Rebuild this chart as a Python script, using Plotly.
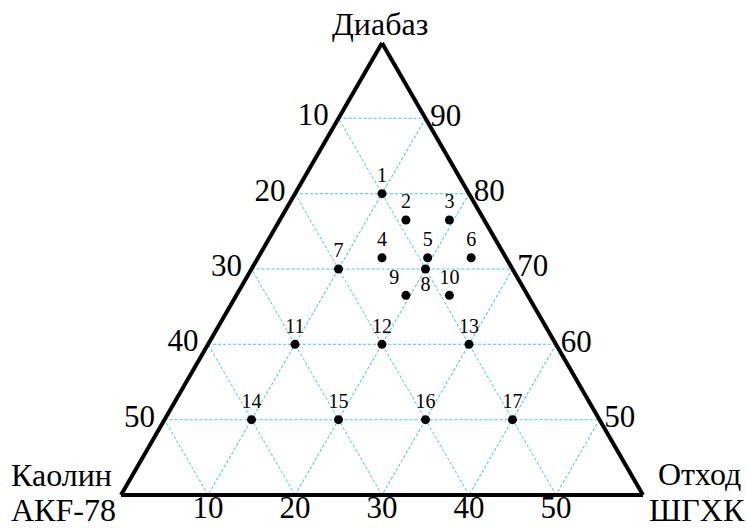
import plotly.graph_objects as go

# ---- data ----
point_labels = [str(i) for i in range(1, 18)]
diabase = [80, 76.5, 76.5, 71.5, 71.5, 71.5, 70, 70, 66.5, 66.5, 60, 60, 60, 50, 50, 50, 50]
kaolin = [10, 9, 4, 14.25, 9, 4, 20, 10, 14, 9, 30, 20, 10, 40, 30, 20, 10]
otkhod = [10, 14.5, 19.5, 14.25, 19.5, 24.5, 10, 20, 19.5, 24.5, 10, 20, 30, 10, 20, 30, 40]
label_pos = ["top center"] * 17
label_pos[7] = "bottom center"   # 8
label_pos[8] = "top left"        # 9

# tick positions and their printed labels
a_tickvals = [90, 80, 70, 60, 50]
a_ticktext = ["10", "20", "30", "40", "50"]     # left edge
b_tickvals = [50, 40, 30, 20, 10]
b_ticktext = ["10", "20", "30", "40", "50"]     # bottom edge
c_tickvals = [10, 20, 30, 40, 50]
c_ticktext = ["90", "80", "70", "60", "50"]     # right edge
a_min = 40

W, H = 746, 528
FONT = "Liberation Serif"
GRID = "#45c4f0"
TICKSIZE = 31

fig = go.Figure()
fig.add_trace(go.Scatterternary(
    a=diabase, b=kaolin, c=otkhod,
    mode="markers+text",
    text=point_labels,
    textposition=label_pos,
    textfont=dict(family=FONT, size=20, color="black"),
    marker=dict(size=9, color="black"),
    cliponaxis=False,
    hoverinfo="skip",
    showlegend=False,
))

# bottom-edge labels, placed at the grid intersections of the bottom edge
fig.add_trace(go.Scatterternary(
    a=[a_min] * len(b_tickvals), b=b_tickvals, c=[100 - a_min - v for v in b_tickvals],
    mode="text",
    text=b_ticktext,
    textposition="bottom center",
    textfont=dict(family=FONT, size=TICKSIZE, color="black"),
    cliponaxis=False,
    hoverinfo="skip",
    showlegend=False,
))

def axis(tv, tt, ticklen=0, labels=True):
    return dict(
        min=0, tickmode="array", tickvals=tv, ticktext=tt,
        ticks="outside" if ticklen else "", ticklen=ticklen,
        tickcolor="rgba(0,0,0,0)",
        showticklabels=labels,
        showline=True, linecolor="black", linewidth=4,
        showgrid=True, gridcolor=GRID, gridwidth=1, griddash="3px,2px",
        tickfont=dict(family=FONT, size=TICKSIZE, color="black"),
        title=dict(text=""),
    )

aax = axis(a_tickvals, a_ticktext, ticklen=4)
aax["min"] = a_min

def ann(text, x, y, xanchor):
    return dict(text=text, x=x / W, y=1 - y / H, xref="paper", yref="paper",
                xanchor=xanchor, yanchor="middle", showarrow=False,
                font=dict(family=FONT, size=32, color="black"))

fig.update_layout(
    width=W, height=H,
    margin=dict(l=0, r=0, t=0, b=0),
    paper_bgcolor="white",
    ternary=dict(
        sum=100,
        bgcolor="white",
        domain=dict(x=[102 / W, 662 / W], y=[(H - 495) / H, (H - 43) / H]),
        aaxis=aax,
        baxis=axis(b_tickvals, b_ticktext, labels=False),
        caxis=axis(c_tickvals, c_ticktext),
    ),
    annotations=[
        ann("Диабаз", 380, 24, "center"),
        ann("Каолин", 9, 475, "left"),
        ann("АКF-78", 9, 510, "left"),
        ann("Отход", 743, 474, "right"),
        ann("ШГХК", 747, 510, "right"),
    ],
)

fig.write_html("out.html", config={"displayModeBar": False},
               post_script="document.body.style.margin='0px';")
